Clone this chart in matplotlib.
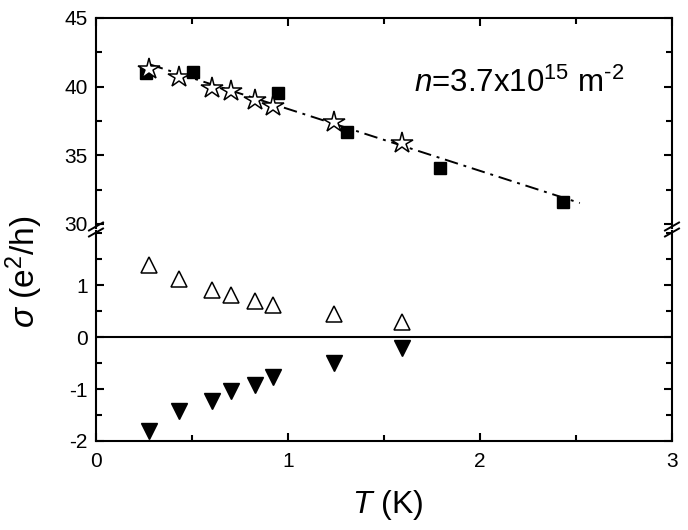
import matplotlib
matplotlib.use("Agg")
import matplotlib.pyplot as plt
from matplotlib.lines import Line2D
from matplotlib.ticker import MultipleLocator

plt.rcParams['font.family'] = ['Liberation Sans', 'DejaVu Sans']
plt.rcParams['mathtext.fontset'] = 'custom'
plt.rcParams['mathtext.rm'] = 'Liberation Sans'
plt.rcParams['mathtext.it'] = 'Liberation Sans:italic'
plt.rcParams['mathtext.bf'] = 'Liberation Sans:bold'
plt.rcParams['axes.unicode_minus'] = False

# ---- data ----
T_squares = [0.258, 0.507, 0.950, 1.305, 1.792, 2.430]
sigma_squares = [41.02, 41.07, 39.53, 36.69, 34.04, 31.63]

T_stars = [0.278, 0.431, 0.602, 0.701, 0.829, 0.924, 1.242, 1.595]
sigma_stars = [41.31, 40.71, 39.89, 39.65, 39.05, 38.61, 37.41, 35.89]

fit_T = [0.28, 2.52]
fit_sigma = [41.62, 31.52]

T_low = [0.278, 0.431, 0.602, 0.701, 0.829, 0.924, 1.242, 1.595]
sigma_up = [1.38, 1.11, 0.90, 0.80, 0.695, 0.625, 0.44, 0.29]
sigma_down = [-1.81, -1.42, -1.24, -1.03, -0.93, -0.76, -0.50, -0.21]

x_ticks = [0, 1, 2, 3]
upper_yticks = [30, 35, 40, 45]
lower_yticks = [-2, -1, 0, 1]

W, H = 688, 530
fig = plt.figure(figsize=(W / 100, H / 100), dpi=100)

def fx(px):
    return px / W

def fy(py):
    return 1 - py / H

left_px, right_px = 96, 672
up_top, up_bot = 18, 228
lo_top, lo_bot = 231, 441

ax_up = fig.add_axes([fx(left_px), fy(up_bot), fx(right_px - left_px), (up_bot - up_top) / H])
ax_lo = fig.add_axes([fx(left_px), fy(lo_bot), fx(right_px - left_px), (lo_bot - lo_top) / H])

lw = 1.5
for ax in (ax_up, ax_lo):
    ax.set_xlim(0, 3)
    ax.xaxis.set_major_locator(MultipleLocator(1))
    ax.xaxis.set_minor_locator(MultipleLocator(0.5))
    for s in ax.spines.values():
        s.set_linewidth(lw)
    ax.tick_params(which='both', direction='in', width=lw, labelsize=15,
                   left=True, right=True, top=True, bottom=True)
    ax.tick_params(which='major', length=6)
    ax.tick_params(which='minor', length=4)
    ax.tick_params(axis='y', pad=6)

# upper panel
ax_up.set_ylim(29.70, 45)
ax_up.set_yticks(upper_yticks)
ax_up.yaxis.set_minor_locator(MultipleLocator(2.5))
ax_up.spines['bottom'].set_visible(False)
ax_up.tick_params(which='both', bottom=False, labelbottom=False)

ax_up.plot(fit_T, fit_sigma, color='black', lw=1.4,
           linestyle=(0, (7, 3, 1.5, 3)), zorder=1)
ax_up.plot(T_squares, sigma_squares, linestyle='none', marker='s',
           markersize=8.5, color='black', zorder=3)
ax_up.plot(T_stars, sigma_stars, linestyle='none', marker='*',
           markersize=16, markerfacecolor='white', markeredgecolor='black',
           markeredgewidth=1.1, zorder=4)

ax_up.text(fx(414), fy(92), '$n$=3.7x10$^{15}$ m$^{\u20102}$', transform=fig.transFigure,
           fontsize=22.5, ha='left', va='baseline')

# lower panel
ax_lo.set_ylim(-2, 2.04)
ax_lo.set_yticks(lower_yticks)
ax_lo.yaxis.set_minor_locator(MultipleLocator(0.5))
ax_lo.spines['top'].set_visible(False)
ax_lo.tick_params(which='both', top=False)
ax_lo.set_xticks(x_ticks)
ax_lo.set_xticklabels([str(v) for v in x_ticks])
ax_lo.tick_params(axis='x', pad=8)

ax_lo.axhline(0, color='black', lw=lw, zorder=1)
ax_lo.plot(T_low, sigma_up, linestyle='none', marker='^', markersize=12,
           markerfacecolor='white', markeredgecolor='black', markeredgewidth=1.1, zorder=3)
ax_lo.plot(T_low, sigma_down, linestyle='none', marker='v', markersize=12,
           color='black', zorder=3)

# axis labels
fig.text(fx(388), fy(505), r'$T$ (K)', fontsize=23, ha='center', va='center')
fig.text(fx(24), fy(272), r'$\sigma$ (e$^2$/h)', fontsize=24, ha='center', va='center',
         rotation=90)

# break marks
for xs in (left_px, right_px):
    for yc in (226.5, 232.5):
        fig.add_artist(Line2D([fx(xs - 7), fx(xs + 7)], [fy(yc + 4), fy(yc - 4)],
                              color='black', lw=1.4, transform=fig.transFigure))

fig.savefig('out.png', dpi=100)
